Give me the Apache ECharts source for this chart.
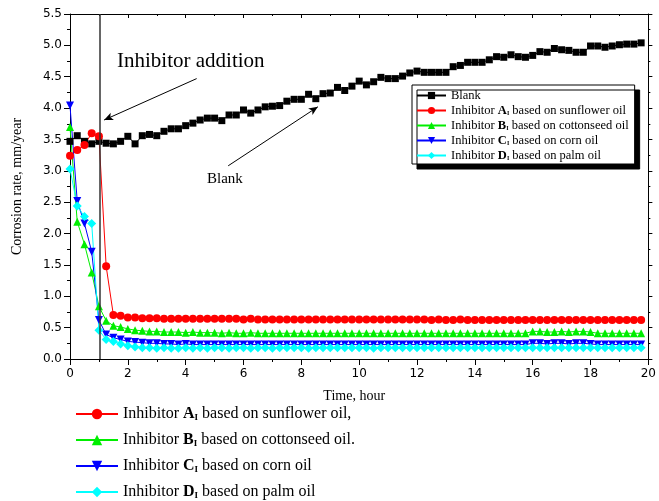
<!DOCTYPE html>
<html>
<head>
<meta charset="utf-8">
<script src="https://cdn.jsdelivr.net/npm/echarts@6/dist/echarts.min.js"></script>
<style>
html,body{margin:0;padding:0;background:#fff;}
#chart{width:659px;height:501px;}
</style>
</head>
<body>
<div id="chart"></div>
<script>
// time, hours
var hours = [0,0.25,0.5,0.75,1,1.25,1.5,1.75,2,2.25,
  2.5,2.75,3,3.25,3.5,3.75,4,4.25,4.5,4.75,
  5,5.25,5.5,5.75,6,6.25,6.5,6.75,7,7.25,
  7.5,7.75,8,8.25,8.5,8.75,9,9.25,9.5,9.75,
  10,10.25,10.5,10.75,11,11.25,11.5,11.75,12,12.25,
  12.5,12.75,13,13.25,13.5,13.75,14,14.25,14.5,14.75,
  15,15.25,15.5,15.75,16,16.25,16.5,16.75,17,17.25,
  17.5,17.75,18,18.25,18.5,18.75,19,19.25,19.5,19.75];

// corrosion rate, mm/year
var blank = [3.47,3.56,3.47,3.43,3.47,3.44,3.43,3.47,3.55,3.43,
  3.56,3.58,3.56,3.63,3.67,3.67,3.72,3.76,3.81,3.84,
  3.84,3.80,3.89,3.89,3.97,3.92,3.97,4.02,4.03,4.04,
  4.11,4.14,4.14,4.22,4.15,4.23,4.24,4.33,4.28,4.35,
  4.43,4.37,4.42,4.49,4.47,4.47,4.51,4.56,4.59,4.57,
  4.57,4.57,4.57,4.66,4.68,4.73,4.73,4.73,4.77,4.82,
  4.81,4.85,4.82,4.81,4.84,4.90,4.89,4.95,4.93,4.92,
  4.89,4.89,4.99,4.99,4.97,4.99,5.01,5.02,5.02,5.04];

var inhA = [3.24,3.33,3.41,3.60,3.55,1.48,0.70,0.69,0.66,0.66,
  0.65,0.65,0.65,0.64,0.64,0.64,0.64,0.64,0.64,0.64,
  0.64,0.64,0.64,0.64,0.63,0.64,0.63,0.63,0.63,0.63,
  0.63,0.63,0.63,0.63,0.63,0.63,0.63,0.63,0.63,0.63,
  0.63,0.63,0.63,0.63,0.63,0.63,0.63,0.63,0.63,0.63,
  0.62,0.63,0.62,0.62,0.63,0.62,0.62,0.62,0.62,0.62,
  0.62,0.62,0.62,0.62,0.62,0.62,0.62,0.62,0.62,0.62,
  0.62,0.62,0.62,0.62,0.62,0.62,0.62,0.62,0.62,0.62];

var inhB = [3.70,2.19,1.83,1.38,0.84,0.61,0.53,0.51,0.48,0.46,
  0.45,0.44,0.44,0.43,0.43,0.43,0.42,0.43,0.42,0.42,
  0.42,0.41,0.42,0.41,0.41,0.42,0.41,0.41,0.41,0.41,
  0.41,0.41,0.41,0.41,0.41,0.41,0.41,0.41,0.41,0.41,
  0.41,0.41,0.41,0.41,0.41,0.41,0.41,0.41,0.41,0.41,
  0.41,0.41,0.41,0.41,0.41,0.41,0.41,0.41,0.41,0.41,
  0.41,0.41,0.41,0.41,0.44,0.44,0.43,0.43,0.44,0.43,
  0.44,0.44,0.43,0.41,0.41,0.41,0.41,0.41,0.41,0.41];

var inhC = [4.04,2.52,2.16,1.71,0.62,0.39,0.34,0.31,0.28,0.27,
  0.26,0.25,0.25,0.24,0.24,0.23,0.24,0.23,0.23,0.23,
  0.23,0.23,0.23,0.23,0.23,0.23,0.23,0.23,0.23,0.23,
  0.23,0.23,0.23,0.23,0.23,0.23,0.23,0.23,0.23,0.23,
  0.23,0.23,0.23,0.23,0.23,0.23,0.23,0.23,0.23,0.23,
  0.23,0.23,0.23,0.23,0.23,0.23,0.23,0.23,0.23,0.23,
  0.23,0.23,0.23,0.23,0.25,0.25,0.24,0.25,0.25,0.24,
  0.25,0.25,0.24,0.23,0.23,0.23,0.23,0.23,0.23,0.23];

var inhD = [3.03,2.44,2.27,2.16,0.46,0.31,0.28,0.24,0.21,0.19,
  0.18,0.18,0.17,0.18,0.17,0.17,0.18,0.17,0.18,0.17,
  0.18,0.18,0.17,0.18,0.18,0.17,0.18,0.18,0.17,0.18,
  0.18,0.18,0.18,0.17,0.18,0.18,0.18,0.18,0.18,0.18,
  0.18,0.18,0.17,0.18,0.18,0.18,0.18,0.18,0.18,0.18,
  0.18,0.18,0.18,0.18,0.18,0.18,0.18,0.18,0.18,0.18,
  0.18,0.18,0.18,0.18,0.18,0.18,0.18,0.18,0.18,0.18,
  0.18,0.18,0.18,0.18,0.18,0.18,0.18,0.18,0.18,0.18];

var additionTime = 1.03;
// arrows: [from, to] in data coords
var additionArrow = [[4.38, 4.47], [1.18, 3.81]];
var blankArrow = [[5.47, 3.08], [8.57, 4.02]];

var serif = 'Liberation Serif';
var sans = 'DejaVu Sans';

function pairs(ys){
  return ys.map(function(y, i){ return [hours[i], y]; });
}

var innerText = {
  Blank: 'Blank',
  A: 'Inhibitor {b|A}{s|I} based on sunflower oil',
  B: 'Inhibitor {b|B}{s|I} based on cottonseed oil',
  C: 'Inhibitor {b|C}{s|I} based on corn oil',
  D: 'Inhibitor {b|D}{s|I} based on palm oil'
};
var bottomText = {
  A: 'Inhibitor {b|A}{s|I} based on sunflower oil,',
  B: 'Inhibitor {b|B}{s|I} based on cottonseed oil.',
  C: 'Inhibitor {b|C}{s|I} based on corn oil',
  D: 'Inhibitor {b|D}{s|I} based on palm oil'
};

var chart = echarts.init(document.getElementById('chart'));

function lineSeries(name, ys, color, symbol, size, extra){
  var s = {
    name: name,
    type: 'line',
    data: pairs(ys),
    symbol: symbol,
    symbolSize: size,
    showAllSymbol: true,
    lineStyle: {color: color, width: 1},
    itemStyle: {color: color},
    emphasis: {disabled: true}
  };
  for (var k in extra) s[k] = extra[k];
  return s;
}

var arrowLine = {color: '#000', width: 1, type: 'solid'};

var option = {
  animation: false,
  backgroundColor: '#fff',
  grid: {left: 70, right: 3, top: 14, bottom: 142},
  xAxis: [{
    type: 'value', min: 0, max: 20, interval: 2, position: 'bottom',
    axisLine: {show: true, onZero: false, lineStyle: {color: '#000', width: 1}},
    axisTick: {show: true, length: 6, lineStyle: {color: '#000'}},
    minorTick: {show: true, splitNumber: 2, length: 3, lineStyle: {color: '#000'}},
    splitLine: {show: false},
    axisLabel: {fontFamily: sans, fontSize: 12, color: '#000', margin: 9},
    name: 'Time, hour', nameLocation: 'middle', nameGap: 30,
    nameTextStyle: {fontFamily: serif, fontSize: 14, color: '#000', padding: [0, 10, 0, 0]}
  }, {
    type: 'value', min: 0, max: 20, interval: 2, position: 'top',
    axisLine: {show: true, onZero: false, lineStyle: {color: '#000', width: 1}},
    axisTick: {show: true, inside: true, length: 4, lineStyle: {color: '#000'}},
    minorTick: {show: true, splitNumber: 2, length: 2, lineStyle: {color: '#000'}},
    splitLine: {show: false},
    axisLabel: {show: false}
  }],
  yAxis: [{
    type: 'value', min: 0, max: 5.5, interval: 0.5, position: 'left',
    axisLine: {show: true, onZero: false, lineStyle: {color: '#000', width: 1}},
    axisTick: {show: true, length: 6, lineStyle: {color: '#000'}},
    minorTick: {show: true, splitNumber: 2, length: 3, lineStyle: {color: '#000'}},
    splitLine: {show: false},
    axisLabel: {fontFamily: sans, fontSize: 12, color: '#000', margin: 8,
      formatter: function(v){ return v.toFixed(1); }},
    name: 'Corrosion rate, mm/year', nameLocation: 'middle', nameGap: 46,
    nameTextStyle: {fontFamily: serif, fontSize: 14, color: '#000'}
  }, {
    type: 'value', min: 0, max: 5.5, interval: 0.5, position: 'right',
    axisLine: {show: true, onZero: false, lineStyle: {color: '#000', width: 1}},
    axisTick: {show: true, length: 4, lineStyle: {color: '#000'}},
    minorTick: {show: true, splitNumber: 2, length: 2, lineStyle: {color: '#000'}},
    splitLine: {show: false},
    axisLabel: {show: false}
  }],
  legend: [{
    data: ['Blank', 'A', 'B', 'C', 'D'],
    orient: 'vertical',
    left: 412, top: 85,
    itemWidth: 29, itemHeight: 9, itemGap: 2,
    padding: [4, 6, 2, 4],
    selectedMode: false,
    backgroundColor: '#fff',
    borderColor: '#000', borderWidth: 1,
    shadowColor: '#000', shadowBlur: 0, shadowOffsetX: 5, shadowOffsetY: 5,
    formatter: function(n){ return innerText[n]; },
    textStyle: {fontFamily: serif, fontSize: 12.5, color: '#000', lineHeight: 12,
      rich: {
        b: {fontFamily: serif, fontSize: 12.5, fontWeight: 'bold', color: '#000', lineHeight: 12},
        s: {fontFamily: serif, fontSize: 6, fontWeight: 'bold', color: '#000', lineHeight: 6, verticalAlign: 'bottom'}
      }}
  }, {
    data: ['A', 'B', 'C', 'D'],
    orient: 'vertical',
    left: 75, top: 406,
    itemWidth: 42, itemHeight: 13, itemGap: 10,
    padding: 0,
    selectedMode: false,
    formatter: function(n){ return bottomText[n]; },
    textStyle: {fontFamily: serif, fontSize: 16, color: '#000', lineHeight: 16,
      rich: {
        b: {fontFamily: serif, fontSize: 16, fontWeight: 'bold', color: '#000', lineHeight: 16},
        s: {fontFamily: serif, fontSize: 9, fontWeight: 'bold', color: '#000', lineHeight: 8, verticalAlign: 'bottom'}
      }}
  }],
  graphic: [{
    type: 'text', left: 117, top: 51,
    style: {text: 'Inhibitor addition', fontFamily: serif, fontSize: 21, fill: '#000'}
  }, {
    type: 'text', left: 207, top: 172,
    style: {text: 'Blank', fontFamily: serif, fontSize: 15, fill: '#000'}
  }],
  series: [
    lineSeries('Blank', blank, '#000', 'rect', 7, {
      markLine: {
        silent: true,
        animation: false,
        label: {show: false},
        symbolSize: [6, 9],
        lineStyle: arrowLine,
        data: [
          [{coord: [additionTime, 5.5], symbol: 'none', lineStyle: {color: '#333', width: 1.5, type: 'solid'}},
           {coord: [additionTime, 0], symbol: 'none'}],
          [{coord: additionArrow[0], symbol: 'none'}, {coord: additionArrow[1], symbol: 'arrow'}],
          [{coord: blankArrow[0], symbol: 'none'}, {coord: blankArrow[1], symbol: 'arrow'}]
        ]
      }
    }),
    lineSeries('A', inhA, '#ff0000', 'circle', 8),
    lineSeries('B', inhB, '#00ee00', 'triangle', 8),
    lineSeries('C', inhC, '#0000ff', 'triangle', 8, {symbolRotate: 180}),
    lineSeries('D', inhD, '#00ffff', 'diamond', 9)
  ]
};

chart.setOption(option);
</script>
</body>
</html>
